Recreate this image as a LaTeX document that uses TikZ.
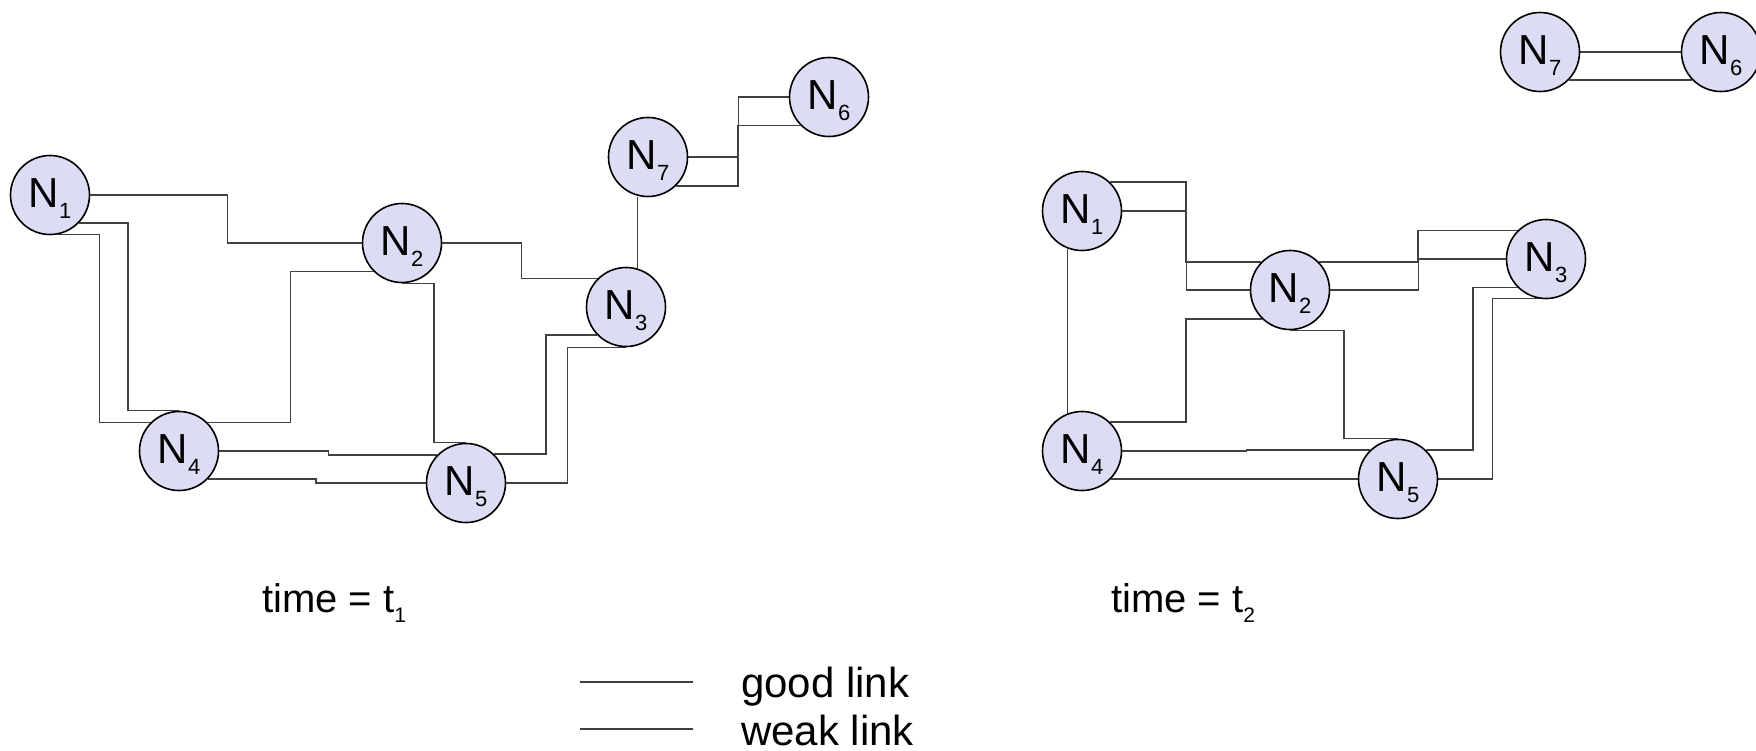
\documentclass[tikz,border=0pt]{standalone}
\usepackage{fontspec}
\setmainfont{Liberation Sans}
\usetikzlibrary{backgrounds}
\definecolor{lav}{RGB}{220,220,245}
\definecolor{lnk}{RGB}{65,65,65}
\newcommand\nodelab[1]{N\raisebox{-11.3pt}[0pt][4.6pt]{\fontsize{22}{22}\selectfont #1}}
\newcommand\tlab[1]{time = t\raisebox{-10pt}{\fontsize{21}{21}\selectfont #1}}
\tikzset{
  nd/.style={circle, draw=black, line width=1.6pt, fill=lav, minimum size=79pt, inner sep=0pt, font=\fontsize{42}{42}\selectfont},
  lk/.style={draw=lnk, line width=1.2pt},
  txt/.style={inner sep=0pt, anchor=base west, font=\fontsize{40}{44}\selectfont},
  lgd/.style={inner sep=0pt, anchor=base west, font=\fontsize{42}{46}\selectfont}
}
\begin{document}
\begin{tikzpicture}[x=1pt,y=-1pt]
\useasboundingbox (0,0) rectangle (1756,750);
\clip (0,0) rectangle (1756,750);
% left cluster, time t1
\node[nd] (a1) at (50,195) {\nodelab{1}};
\node[nd] (a2) at (402,243) {\nodelab{2}};
\node[nd] (a3) at (626,307) {\nodelab{3}};
\node[nd] (a4) at (179,451) {\nodelab{4}};
\node[nd] (a5) at (466,483) {\nodelab{5}};
\node[nd] (a6) at (829,97) {\nodelab{6}};
\node[nd] (a7) at (648,157) {\nodelab{7}};
% right cluster, time t2
\node[nd] (b1) at (1082,211) {\nodelab{1}};
\node[nd] (b2) at (1290,290) {\nodelab{2}};
\node[nd] (b3) at (1546,259) {\nodelab{3}};
\node[nd] (b4) at (1082,451) {\nodelab{4}};
\node[nd] (b5) at (1398,479) {\nodelab{5}};
\node[nd] (b6) at (1721,52) {\nodelab{6}};
\node[nd] (b7) at (1540,52) {\nodelab{7}};
% captions
\node[txt] (c1) at (262,612.7) {\tlab{1}};
\node[txt] (c2) at (1111,612.7) {\tlab{2}};
% legend
\coordinate (g1) at (580,682);
\coordinate (g2) at (693,682);
\coordinate (w1) at (580,729);
\coordinate (w2) at (693,729);
\node[lgd] (gl) at (741,697.7) {good link};
\node[lgd] (wl) at (741,745) {weak link};
\begin{scope}[on background layer]
  % left
  \draw[lk] (a1.east) -- ++(137,0) |- (a2.west);
  \draw[lk] (a1.-44) -- ++(49,0) |- (a4.north);
  \draw[lk] (a1.-79) -- ++(42,0) |- (a4.135);
  \draw[lk] (a4.45) -- ++(83,0) |- (a2.-135);
  \draw[lk] (a2.south) -- ++(32,0) |- (a5.north);
  \draw[lk] (a4.east) -- ++(109,0) |- (a5.136);
  \draw[lk] (a4.-44) -- ++(108,0) |- (a5.west);
  \draw[lk] (a2.east) -- ++(79,0) |- (a3.135);
  \draw[lk] (a3.74) -- (a3.74 |- a7.south);
  \draw[lk] (a7.east) -- ++(50,0) |- (a6.west);
  \draw[lk] (a7.-46) -- ++(62,0) |- (a6.-135);
  \draw[lk] (a5.46) -- ++(52,0) |- (a3.-136);
  \draw[lk] (a5.east) -- ++(61,0) |- (a3.south);
  % right
  \draw[lk] (b1.46) -- ++(76,0) |- (b2.136);
  \draw[lk] (b1.east) -- ++(64,0) |- (b2.west);
  \draw[lk] (b1.-111) |- (b4.134);
  \draw[lk] (b4.46) -- ++(76,0) |- (b2.-134);
  \draw[lk] (b2.south) -- ++(54,0) |- (b5.north);
  \draw[lk] (b4.east) -- ++(124,0) |- (b5.134);
  \draw[lk] (b4.-44) -- ++(123,0) |- (b5.west);
  \draw[lk] (b2.44) -- ++(99,0) |- (b3.135);
  \draw[lk] (b2.east) -- ++(88,0) |- (b3.west);
  \draw[lk] (b5.46) -- ++(47,0) |- (b3.-135);
  \draw[lk] (b5.east) -- ++(54,0) |- (b3.-100);
  \draw[lk] (b7.east) -- (b6.west);
  \draw[lk] (b7.-44) -- (b6.-136);
  % legend lines
  \draw[lk] (g1) -- (g2);
  \draw[lk] (w1) -- (w2);
\end{scope}
\end{tikzpicture}
\end{document}
